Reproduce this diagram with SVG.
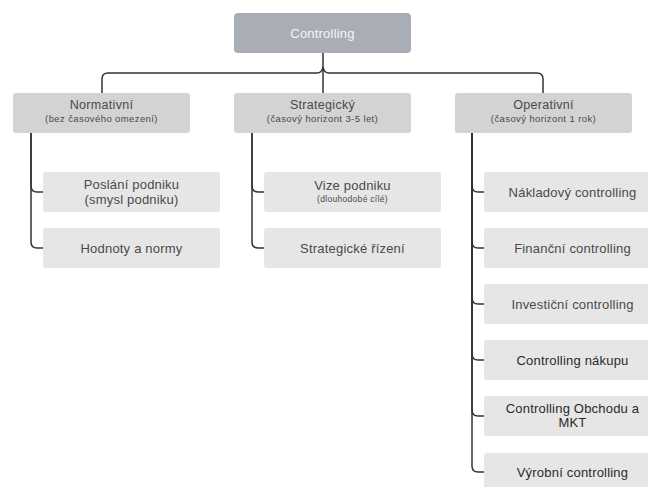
<svg xmlns="http://www.w3.org/2000/svg" width="648" height="487" viewBox="0 0 648 487">
  <style>
    text { font-family: "Liberation Sans", Arial, sans-serif; fill: #4a4a4a; text-anchor: middle; }
    .root rect { fill: #a9aeb6; }
    .root text { fill: #f4f5f7; font-size: 13px; letter-spacing: 0.2px; }
    .l1 rect { fill: #d3d3d3; }
    .l1 .t { font-size: 12.5px; letter-spacing: 0.3px; }
    .l1 .s { font-size: 9.5px; letter-spacing: 0.4px; }
    .l2 rect { fill: #e6e6e6; }
    .l2 .t { font-size: 13px; letter-spacing: 0.2px; }
    .l2 .s { font-size: 8.5px; letter-spacing: 0.3px; }
    .dark .t { fill: #2a2a2a; }
    .links path { fill: none; stroke: #333; stroke-width: 1.5; }
  </style>

  <g class="links">
    <path d="M323,53 V93"/>
    <path d="M102,93 V79 Q102,73 108,73 H317 Q322,73 323,67"/>
    <path d="M543,93 V79 Q543,73 537,73 H329 Q324,73 323,67"/>
    <path d="M31,133 V186 Q31,192 37,192 H43"/>
    <path d="M31,133 V242 Q31,248 37,248 H43"/>
    <path d="M252,133 V186 Q252,192 258,192 H264"/>
    <path d="M252,133 V242 Q252,248 258,248 H264"/>
    <path d="M472,133 V186 Q472,192 478,192 H484"/>
    <path d="M472,133 V242 Q472,248 478,248 H484"/>
    <path d="M472,133 V298 Q472,304 478,304 H484"/>
    <path d="M472,133 V354 Q472,360 478,360 H484"/>
    <path d="M472,133 V410 Q472,416 478,416 H484"/>
    <path d="M472,133 V466 Q472,472 478,472 H484"/>
  </g>

  <g id="controlling" class="root">
    <rect x="234" y="13" width="177" height="40" rx="4"/>
    <text x="322.5" y="37.5">Controlling</text>
  </g>

  <g id="normativni" class="l1">
    <rect x="13" y="93" width="177" height="40" rx="3"/>
    <text class="t" x="101.5" y="109">Normativní</text>
    <text class="s" x="101.5" y="122">(bez časového omezení)</text>
  </g>
  <g id="strategicky" class="l1">
    <rect x="234" y="93" width="177" height="40" rx="3"/>
    <text class="t" x="322.5" y="109">Strategický</text>
    <text class="s" x="322.5" y="122">(časový horizont 3-5 let)</text>
  </g>
  <g id="operativni" class="l1">
    <rect x="455" y="93" width="177" height="40" rx="3"/>
    <text class="t" x="543.5" y="109">Operativní</text>
    <text class="s" x="543.5" y="122">(časový horizont 1 rok)</text>
  </g>

  <g id="poslani" class="l2">
    <rect x="43" y="172" width="177" height="40" rx="3"/>
    <text class="t" x="131.5" y="189">Poslání podniku</text>
    <text class="t" x="131.5" y="203.5">(smysl podniku)</text>
  </g>
  <g id="hodnoty" class="l2">
    <rect x="43" y="228" width="177" height="40" rx="3"/>
    <text class="t" x="131.5" y="252.5">Hodnoty a normy</text>
  </g>

  <g id="vize" class="l2">
    <rect x="264" y="172" width="177" height="40" rx="3"/>
    <text class="t" x="352.5" y="190">Vize podniku</text>
    <text class="s" x="352.5" y="202">(dlouhodobé cílé)</text>
  </g>
  <g id="strategicke-rizeni" class="l2">
    <rect x="264" y="228" width="177" height="40" rx="3"/>
    <text class="t" x="352.5" y="252.5">Strategické řízení</text>
  </g>

  <g id="nakladovy" class="l2">
    <rect x="484" y="172" width="177" height="40" rx="3"/>
    <text class="t" x="572.5" y="196.5">Nákladový controlling</text>
  </g>
  <g id="financni" class="l2">
    <rect x="484" y="228" width="177" height="40" rx="3"/>
    <text class="t" x="572.5" y="252.5">Finanční controlling</text>
  </g>
  <g id="investicni" class="l2">
    <rect x="484" y="284" width="177" height="40" rx="3"/>
    <text class="t" x="572.5" y="308.5">Investiční controlling</text>
  </g>
  <g id="nakupu" class="l2 dark">
    <rect x="484" y="340" width="177" height="40" rx="3"/>
    <text class="t" x="572.5" y="364.5">Controlling nákupu</text>
  </g>
  <g id="obchodu" class="l2 dark">
    <rect x="484" y="396" width="177" height="40" rx="3"/>
    <text class="t" x="572.5" y="412.5">Controlling Obchodu a</text>
    <text class="t" x="572.5" y="427">MKT</text>
  </g>
  <g id="vyrobni" class="l2 dark">
    <rect x="484" y="453" width="177" height="40" rx="3"/>
    <text class="t" x="572.5" y="476.5">Výrobní controlling</text>
  </g>
</svg>
